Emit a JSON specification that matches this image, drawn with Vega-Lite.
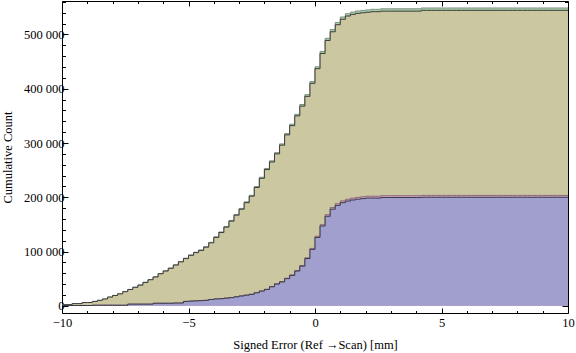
{
  "$schema": "https://vega.github.io/schema/vega-lite/v6.json",
  "width": 506,
  "height": 312,
  "autosize": {"type": "none"},
  "padding": {"left": 62, "top": 1, "right": 8, "bottom": 40},
  "config": {
    "locale": {"number": {"decimal": ".", "thousands": " ", "grouping": [3], "currency": ["", ""], "minus": "−"}},
    "view": {"stroke": null},
    "axis": {"labelFont": "Liberation Serif", "titleFont": "Liberation Serif", "labelFontSize": 12.5, "titleFontSize": 12.5, "titleFontWeight": "normal", "labelColor": "#000", "titleColor": "#000", "domainColor": "#000", "tickColor": "#000", "grid": false, "domainWidth": 1, "tickWidth": 1}
  },
  "data": {"values": [
    {"x": -10.0, "o": 2000, "g": 2016, "b": 500, "p": 509},
    {"x": -9.8, "o": 2000, "g": 2016, "b": 500, "p": 509},
    {"x": -9.6, "o": 4000, "g": 4032, "b": 500, "p": 509},
    {"x": -9.4, "o": 4000, "g": 4032, "b": 500, "p": 509},
    {"x": -9.2, "o": 6000, "g": 6048, "b": 500, "p": 509},
    {"x": -9.0, "o": 6000, "g": 6048, "b": 500, "p": 509},
    {"x": -8.8, "o": 8000, "g": 8064, "b": 1000, "p": 1017},
    {"x": -8.6, "o": 10000, "g": 10080, "b": 1000, "p": 1017},
    {"x": -8.4, "o": 12500, "g": 12600, "b": 1000, "p": 1017},
    {"x": -8.2, "o": 16000, "g": 16128, "b": 1000, "p": 1017},
    {"x": -8.0, "o": 19000, "g": 19152, "b": 1000, "p": 1017},
    {"x": -7.8, "o": 22000, "g": 22176, "b": 1000, "p": 1017},
    {"x": -7.6, "o": 26000, "g": 26208, "b": 1000, "p": 1017},
    {"x": -7.4, "o": 30000, "g": 30240, "b": 3000, "p": 3051},
    {"x": -7.2, "o": 34000, "g": 34272, "b": 3000, "p": 3051},
    {"x": -7.0, "o": 38000, "g": 38304, "b": 3000, "p": 3051},
    {"x": -6.8, "o": 43000, "g": 43344, "b": 3000, "p": 3051},
    {"x": -6.6, "o": 48000, "g": 48384, "b": 3000, "p": 3051},
    {"x": -6.4, "o": 53000, "g": 53424, "b": 4600, "p": 4678},
    {"x": -6.2, "o": 59000, "g": 59472, "b": 4600, "p": 4678},
    {"x": -6.0, "o": 64000, "g": 64512, "b": 4600, "p": 4678},
    {"x": -5.8, "o": 69000, "g": 69552, "b": 4600, "p": 4678},
    {"x": -5.6, "o": 75000, "g": 75600, "b": 5000, "p": 5085},
    {"x": -5.4, "o": 81000, "g": 81648, "b": 5000, "p": 5085},
    {"x": -5.2, "o": 87000, "g": 87696, "b": 8000, "p": 8136},
    {"x": -5.0, "o": 93000, "g": 93744, "b": 8500, "p": 8645},
    {"x": -4.8, "o": 98000, "g": 98784, "b": 9000, "p": 9153},
    {"x": -4.6, "o": 102000, "g": 102816, "b": 9500, "p": 9662},
    {"x": -4.4, "o": 108000, "g": 108864, "b": 10000, "p": 10170},
    {"x": -4.2, "o": 116000, "g": 116928, "b": 11500, "p": 11696},
    {"x": -4.0, "o": 126000, "g": 127008, "b": 12500, "p": 12713},
    {"x": -3.8, "o": 135000, "g": 136080, "b": 13000, "p": 13221},
    {"x": -3.6, "o": 145000, "g": 146160, "b": 14000, "p": 14238},
    {"x": -3.4, "o": 156000, "g": 157248, "b": 15000, "p": 15255},
    {"x": -3.2, "o": 167000, "g": 168336, "b": 16500, "p": 16781},
    {"x": -3.0, "o": 178000, "g": 179424, "b": 18000, "p": 18306},
    {"x": -2.8, "o": 190000, "g": 191520, "b": 19500, "p": 19832},
    {"x": -2.6, "o": 202000, "g": 203616, "b": 21000, "p": 21357},
    {"x": -2.4, "o": 218000, "g": 219744, "b": 24000, "p": 24408},
    {"x": -2.2, "o": 235000, "g": 236880, "b": 27000, "p": 27459},
    {"x": -2.0, "o": 251000, "g": 253008, "b": 30000, "p": 30510},
    {"x": -1.8, "o": 265000, "g": 267120, "b": 35000, "p": 35595},
    {"x": -1.6, "o": 280000, "g": 282240, "b": 40000, "p": 40680},
    {"x": -1.4, "o": 296000, "g": 298368, "b": 44000, "p": 44748},
    {"x": -1.2, "o": 315000, "g": 317520, "b": 50000, "p": 50850},
    {"x": -1.0, "o": 332000, "g": 334656, "b": 56000, "p": 56952},
    {"x": -0.8, "o": 350000, "g": 352800, "b": 64000, "p": 65088},
    {"x": -0.6, "o": 368000, "g": 370944, "b": 73000, "p": 74241},
    {"x": -0.4, "o": 386000, "g": 389088, "b": 87000, "p": 88479},
    {"x": -0.2, "o": 410000, "g": 413280, "b": 104000, "p": 105768},
    {"x": 0.0, "o": 437000, "g": 440496, "b": 126000, "p": 128142},
    {"x": 0.2, "o": 465000, "g": 468720, "b": 147000, "p": 149499},
    {"x": 0.4, "o": 489000, "g": 492912, "b": 165000, "p": 167805},
    {"x": 0.6, "o": 505000, "g": 509040, "b": 178000, "p": 181026},
    {"x": 0.8, "o": 518000, "g": 522144, "b": 185000, "p": 188145},
    {"x": 1.0, "o": 528000, "g": 532224, "b": 190000, "p": 193230},
    {"x": 1.2, "o": 534000, "g": 538272, "b": 193000, "p": 196281},
    {"x": 1.4, "o": 537000, "g": 541296, "b": 195000, "p": 198315},
    {"x": 1.6, "o": 539000, "g": 543312, "b": 196500, "p": 199841},
    {"x": 1.8, "o": 540000, "g": 544320, "b": 197500, "p": 200858},
    {"x": 2.0, "o": 541000, "g": 545328, "b": 198500, "p": 201875},
    {"x": 2.2, "o": 542000, "g": 546336, "b": 198500, "p": 201875},
    {"x": 2.4, "o": 542000, "g": 546336, "b": 198500, "p": 201875},
    {"x": 2.6, "o": 543000, "g": 547344, "b": 199500, "p": 202892},
    {"x": 2.8, "o": 543000, "g": 547344, "b": 199500, "p": 202892},
    {"x": 3.0, "o": 543000, "g": 547344, "b": 199500, "p": 202892},
    {"x": 3.2, "o": 543000, "g": 547344, "b": 199500, "p": 202892},
    {"x": 3.4, "o": 543000, "g": 547344, "b": 199500, "p": 202892},
    {"x": 3.6, "o": 543000, "g": 547344, "b": 199500, "p": 202892},
    {"x": 3.8, "o": 543000, "g": 547344, "b": 199500, "p": 202892},
    {"x": 4.0, "o": 543000, "g": 547344, "b": 199500, "p": 202892},
    {"x": 4.2, "o": 544500, "g": 548856, "b": 200000, "p": 203400},
    {"x": 4.4, "o": 544500, "g": 548856, "b": 200000, "p": 203400},
    {"x": 4.6, "o": 544500, "g": 548856, "b": 200000, "p": 203400},
    {"x": 4.8, "o": 544500, "g": 548856, "b": 200000, "p": 203400},
    {"x": 5.0, "o": 544500, "g": 548856, "b": 200000, "p": 203400},
    {"x": 5.2, "o": 544500, "g": 548856, "b": 200000, "p": 203400},
    {"x": 5.4, "o": 544500, "g": 548856, "b": 200000, "p": 203400},
    {"x": 5.6, "o": 544500, "g": 548856, "b": 200000, "p": 203400},
    {"x": 5.8, "o": 544500, "g": 548856, "b": 200000, "p": 203400},
    {"x": 6.0, "o": 544500, "g": 548856, "b": 200000, "p": 203400},
    {"x": 6.2, "o": 544500, "g": 548856, "b": 200000, "p": 203400},
    {"x": 6.4, "o": 544500, "g": 548856, "b": 200000, "p": 203400},
    {"x": 6.6, "o": 544500, "g": 548856, "b": 200000, "p": 203400},
    {"x": 6.8, "o": 544500, "g": 548856, "b": 200000, "p": 203400},
    {"x": 7.0, "o": 544500, "g": 548856, "b": 200000, "p": 203400},
    {"x": 7.2, "o": 544500, "g": 548856, "b": 200000, "p": 203400},
    {"x": 7.4, "o": 544500, "g": 548856, "b": 200000, "p": 203400},
    {"x": 7.6, "o": 544500, "g": 548856, "b": 200000, "p": 203400},
    {"x": 7.8, "o": 544500, "g": 548856, "b": 200000, "p": 203400},
    {"x": 8.0, "o": 544500, "g": 548856, "b": 200000, "p": 203400},
    {"x": 8.2, "o": 544500, "g": 548856, "b": 200000, "p": 203400},
    {"x": 8.4, "o": 544500, "g": 548856, "b": 200000, "p": 203400},
    {"x": 8.6, "o": 544500, "g": 548856, "b": 200000, "p": 203400},
    {"x": 8.8, "o": 544500, "g": 548856, "b": 200000, "p": 203400},
    {"x": 9.0, "o": 544500, "g": 548856, "b": 200000, "p": 203400},
    {"x": 9.2, "o": 544500, "g": 548856, "b": 200000, "p": 203400},
    {"x": 9.4, "o": 544500, "g": 548856, "b": 200000, "p": 203400},
    {"x": 9.6, "o": 544500, "g": 548856, "b": 200000, "p": 203400},
    {"x": 9.8, "o": 544500, "g": 548856, "b": 200000, "p": 203400},
    {"x": 10.0, "o": 544500, "g": 548856, "b": 200000, "p": 203400}
  ]},
  "layer": [
    {
      "mark": {"type": "area", "interpolate": "step-after", "color": "#a6cfa8", "opacity": 1, "clip": true, "line": {"color": "#7f9282", "strokeWidth": 1}},
      "encoding": {
        "x": {"field": "x", "type": "quantitative", "scale": {"domain": [-10, 10], "nice": false, "zero": false},
          "axis": {"orient": "bottom", "title": "Signed Error (Ref →Scan) [mm]", "values": [-10,-9,-8,-7,-6,-5,-4,-3,-2,-1,0,1,2,3,4,5,6,7,8,9,10],
            "tickSize": {"condition": {"test": "datum.value % 5 === 0", "value": -5}, "value": -2.5},
            "labelExpr": "datum.value % 5 === 0 ? datum.label : ''", "labelPadding": 8, "labelFlush": false, "labelOverlap": false, "titlePadding": 7}},
        "y": {"field": "g", "type": "quantitative", "scale": {"domain": [-13300, 561700], "nice": false, "zero": false},
          "axis": {"orient": "left", "title": "Cumulative Count", "values": [0,20000,40000,60000,80000,100000,120000,140000,160000,180000,200000,220000,240000,260000,280000,300000,320000,340000,360000,380000,400000,420000,440000,460000,480000,500000,520000,540000,560000],
            "format": ",d",
            "tickSize": {"condition": {"test": "datum.value % 100000 === 0", "value": -6}, "value": -3.5},
            "labelExpr": "datum.value % 100000 === 0 ? datum.label : ''", "labelPadding": 4, "labelOverlap": false, "labelFlush": false, "titlePadding": 9}},
        "y2": {"datum": 0}
      }
    },
    {
      "mark": {"type": "area", "interpolate": "step-after", "color": "#cbc7a0", "opacity": 1, "clip": true, "line": {"color": "#3c3c3c", "strokeWidth": 1}},
      "encoding": {
        "x": {"field": "x", "type": "quantitative", "axis": null},
        "y": {"field": "o", "type": "quantitative", "axis": null},
        "y2": {"datum": 0}
      }
    },
    {
      "mark": {"type": "area", "interpolate": "step-after", "color": "#cfa3c3", "opacity": 1, "clip": true, "line": {"color": "#8a6a7c", "strokeWidth": 1}},
      "encoding": {
        "x": {"field": "x", "type": "quantitative", "axis": null},
        "y": {"field": "p", "type": "quantitative", "axis": null},
        "y2": {"datum": 0}
      }
    },
    {
      "mark": {"type": "area", "interpolate": "step-after", "color": "#a09fcd", "opacity": 1, "clip": true, "line": {"color": "#3a3a48", "strokeWidth": 1}},
      "encoding": {
        "x": {"field": "x", "type": "quantitative", "axis": null},
        "y": {"field": "b", "type": "quantitative", "axis": null},
        "y2": {"datum": 0}
      }
    },
    {
      "mark": {"type": "point", "opacity": 0},
      "encoding": {
        "x": {"field": "x", "type": "quantitative",
          "axis": {"orient": "top", "title": null, "labels": false, "values": [-10,-9,-8,-7,-6,-5,-4,-3,-2,-1,0,1,2,3,4,5,6,7,8,9,10],
            "tickSize": {"condition": {"test": "datum.value % 5 === 0", "value": -5}, "value": -2.5}}},
        "y": {"field": "o", "type": "quantitative",
          "axis": {"orient": "right", "title": null, "labels": false, "values": [0,20000,40000,60000,80000,100000,120000,140000,160000,180000,200000,220000,240000,260000,280000,300000,320000,340000,360000,380000,400000,420000,440000,460000,480000,500000,520000,540000,560000],
            "tickSize": {"condition": {"test": "datum.value % 100000 === 0", "value": -6}, "value": -3.5}}}
      }
    }
  ],
  "resolve": {"axis": {"x": "independent", "y": "independent"}}
}
